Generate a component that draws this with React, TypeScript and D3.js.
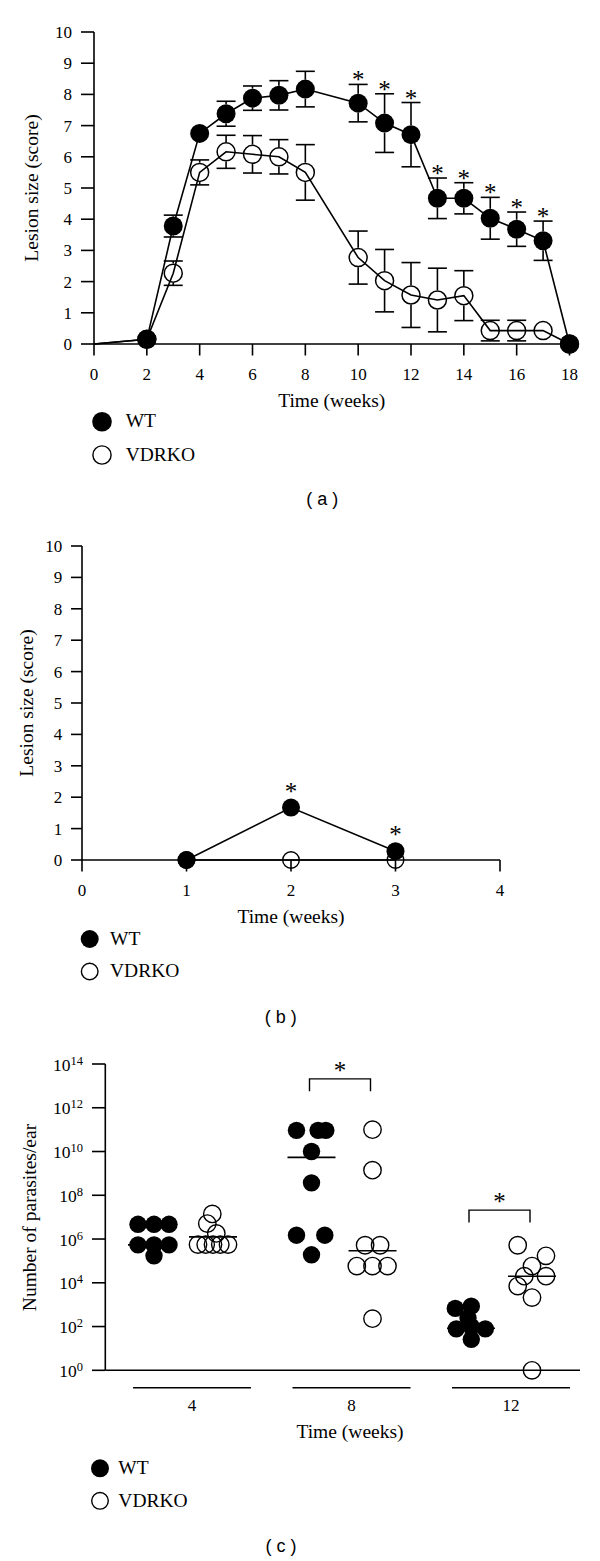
import React from "react";
import * as d3 from "d3";

const SERIF = "'Liberation Serif', 'DejaVu Serif', 'Times New Roman', Times, serif";
const SANS = "'Liberation Sans', Arial, Helvetica, sans-serif";

// ---------- Panel (a): lesion size over 18 weeks ----------
const weeksA = [0, 2, 3, 4, 5, 6, 7, 8, 10, 11, 12, 13, 14, 15, 16, 17, 18];
const wtMeanA = [0, 0.15, 3.78, 6.75, 7.38, 7.88, 7.97, 8.17, 7.72, 7.08, 6.71, 4.67, 4.67, 4.03, 3.68, 3.31, 0];
const wtSemA = [0, 0, 0.35, 0.2, 0.4, 0.39, 0.47, 0.57, 0.6, 0.94, 1.03, 0.65, 0.5, 0.67, 0.55, 0.63, 0];
const koMeanA = [0, 0.15, 2.27, 5.5, 6.16, 6.08, 6.0, 5.5, 2.77, 2.03, 1.57, 1.41, 1.55, 0.43, 0.43, 0.43, 0];
const koSemA = [0, 0, 0.39, 0.4, 0.53, 0.6, 0.55, 0.89, 0.85, 1.0, 1.04, 1.02, 0.8, 0.33, 0.33, 0.15, 0];
const sigWeeksA = [10, 11, 12, 13, 14, 15, 16, 17];
const xTicksA = [0, 2, 4, 6, 8, 10, 12, 14, 16, 18];
const yTicksScore = [0, 1, 2, 3, 4, 5, 6, 7, 8, 9, 10];

// ---------- Panel (b): lesion size over 4 weeks ----------
const weeksB = [1, 2, 3];
const wtMeanB = [0, 1.67, 0.28];
const koMeanB = [0, 0, 0];
const sigWeeksB = [2, 3];
const xTicksB = [0, 1, 2, 3, 4];

// ---------- Panel (c): parasites per ear ----------
const groupsC = [4, 8, 12];
const wtC4 = [4.7e6, 4.7e6, 4.7e6, 5.4e5, 5.4e5, 5.4e5, 1.7e5];
const wtC8 = [9.3e10, 9.3e10, 9.3e10, 1.0e10, 3.7e8, 1.5e6, 1.5e6, 1.9e5];
const wtC12 = [676, 851, 78, 98, 78, 26, 245];
const koC4 = [5.6e5, 5.6e5, 5.6e5, 5.6e5, 5.6e5, 1.8e6, 5.1e6, 1.4e7];
const koC8 = [1.0e11, 1.4e9, 5.2e5, 5.2e5, 5.8e4, 5.8e4, 5.8e4, 230];
const koC12 = [5.2e5, 1.7e5, 5.8e4, 2.0e4, 2.0e4, 7.1e3, 2.1e3, 1];
const wtLineC = [5.4e5, 5.4e9, 83];
const koLineC = [1.26e6, 2.9e5, 2.0e4];
const sigGroupsC = [8, 12];
const sigLevelC = [2.1e13, 2.1e7];
const yExpC = [0, 2, 4, 6, 8, 10, 12, 14];

// horizontal jitter (layout) for the scatter columns, in px
const wtJit4 = [-14, 2, 17, -14, 2, 17, 2];
const wtJit8 = [-15, 6.6, 14.3, 0, 0, -15, 13.3, 0];
const wtJit12 = [-15.7, 0.3, -14.7, 0.3, 14.3, 0.3, -3];
const koJit4 = [-15, -7.3, 0, 7.3, 15, 3.3, -5.7, -0.7];
const koJit8 = [0, 0, -7.4, 7.6, -15.7, 0, 15, 0];
const koJit12 = [-14.3, 14, 0, 14, -7.7, -14.3, 0, 0];

const LW = 1.6;
const STAR = 25;

function ErrBar({ x, cy, yt, yb, r }: { x: number; cy: number; yt: number; yb: number; r: number }) {
  const cap = 9.5;
  const out: any[] = [];
  if (cy - yt > r - 1) {
    out.push(<line key="t" x1={x} x2={x} y1={yt} y2={cy - r} stroke="#000" strokeWidth={LW} />);
    out.push(<line key="tc" x1={x - cap} x2={x + cap} y1={yt} y2={yt} stroke="#000" strokeWidth={LW} />);
  }
  if (yb - cy > r - 1) {
    out.push(<line key="b" x1={x} x2={x} y1={cy + r} y2={yb} stroke="#000" strokeWidth={LW} />);
    out.push(<line key="bc" x1={x - cap} x2={x + cap} y1={yb} y2={yb} stroke="#000" strokeWidth={LW} />);
  }
  return <g>{out}</g>;
}

function Legend({ x, y1, y2, tx, r }: { x: number; y1: number; y2: number; tx: number; r: number }) {
  return (
    <g style={{ fontFamily: SERIF, fontSize: 19.5 }}>
      <circle cx={x} cy={y1} r={r} fill="#000" />
      <text x={tx} y={y1 + 5.7}>WT</text>
      <circle cx={x} cy={y2} r={r - 0.7} fill="none" stroke="#000" strokeWidth={1.4} />
      <text x={tx} y={y2 + 5.7}>VDRKO</text>
    </g>
  );
}

function PanelA() {
  const x = d3.scaleLinear().domain([0, 18]).range([94, 569.5]);
  const y = d3.scaleLinear().domain([0, 10]).range([344, 32]);
  const wt = weeksA.map((w, i) => ({ w, v: wtMeanA[i], e: wtSemA[i] }));
  const ko = weeksA.map((w, i) => ({ w, v: koMeanA[i], e: koSemA[i] }));
  const lineGen = d3.line<any>().x((d) => x(d.w)).y((d) => y(d.v));
  const rW = 9.5;
  const rK = 9;
  return (
    <g style={{ fontFamily: SERIF }}>
      <line x1={x(0)} x2={x(0)} y1={y(10)} y2={y(0)} stroke="#000" strokeWidth={LW} />
      <line x1={x(0)} x2={x(18)} y1={y(0)} y2={y(0)} stroke="#000" strokeWidth={LW} />
      {yTicksScore.map((t) => (
        <g key={t}>
          <line x1={81} x2={x(0)} y1={y(t)} y2={y(t)} stroke="#000" strokeWidth={LW} />
          <text x={72} y={y(t) + 6} textAnchor="end" fontSize={17}>{t}</text>
        </g>
      ))}
      {xTicksA.map((t) => (
        <g key={t}>
          <line x1={x(t)} x2={x(t)} y1={y(0)} y2={355.5} stroke="#000" strokeWidth={LW} />
          <text x={x(t)} y={379.5} textAnchor="middle" fontSize={17}>{t}</text>
        </g>
      ))}
      <text transform={`translate(37.5,${(y(0) + y(10)) / 2}) rotate(-90)`} textAnchor="middle" fontSize={19.5}>Lesion size (score)</text>
      <text x={(x(0) + x(18)) / 2} y={406.5} textAnchor="middle" fontSize={19.5}>Time (weeks)</text>
      <path d={lineGen(ko) || ""} fill="none" stroke="#000" strokeWidth={LW} />
      <path d={lineGen(wt) || ""} fill="none" stroke="#000" strokeWidth={LW} />
      {ko.slice(1).map((d) => (
        <ErrBar key={"ke" + d.w} x={x(d.w)} cy={y(d.v)} yt={y(d.v + d.e)} yb={y(d.v - d.e)} r={rK + 0.75} />
      ))}
      {wt.slice(1).map((d) => (
        <ErrBar key={"we" + d.w} x={x(d.w)} cy={y(d.v)} yt={y(d.v + d.e)} yb={y(d.v - d.e)} r={rW} />
      ))}
      {ko.slice(1).map((d) => (
        <circle key={"k" + d.w} cx={x(d.w)} cy={y(d.v)} r={rK} fill="none" stroke="#000" strokeWidth={1.5} />
      ))}
      {wt.slice(1).map((d) => (
        <circle key={"w" + d.w} cx={x(d.w)} cy={y(d.v)} r={rW} fill="#000" />
      ))}
      {sigWeeksA.map((w) => {
        const d = wt.find((p) => p.w === w)!;
        return (
          <text key={"s" + w} x={x(w)} y={y(d.v + d.e) + 4} textAnchor="middle" fontSize={STAR}>*</text>
        );
      })}
      <Legend x={102} y1={421.7} y2={455} tx={125.7} r={9.8} />
      <text x={322.3} y={505} textAnchor="middle" style={{ fontFamily: SANS }} fontSize={18}>( a )</text>
    </g>
  );
}

function PanelB() {
  const x = d3.scaleLinear().domain([0, 4]).range([82, 500]);
  const y = d3.scaleLinear().domain([0, 10]).range([860, 546]);
  const wt = weeksB.map((w, i) => ({ w, v: wtMeanB[i] }));
  const ko = weeksB.map((w, i) => ({ w, v: koMeanB[i] }));
  const line = d3.line<any>().x((d) => x(d.w)).y((d) => y(d.v));
  return (
    <g style={{ fontFamily: SERIF }}>
      <line x1={x(0)} x2={x(0)} y1={y(10)} y2={y(0)} stroke="#000" strokeWidth={LW} />
      <line x1={x(0)} x2={x(4)} y1={y(0)} y2={y(0)} stroke="#000" strokeWidth={LW} />
      {yTicksScore.map((t) => (
        <g key={t}>
          <line x1={71} x2={x(0)} y1={y(t)} y2={y(t)} stroke="#000" strokeWidth={LW} />
          <text x={62.3} y={y(t) + 6} textAnchor="end" fontSize={17}>{t}</text>
        </g>
      ))}
      {xTicksB.map((t) => (
        <g key={t}>
          <line x1={x(t)} x2={x(t)} y1={y(0)} y2={871.5} stroke="#000" strokeWidth={LW} />
          <text x={x(t)} y={896} textAnchor="middle" fontSize={17}>{t}</text>
        </g>
      ))}
      <text transform={`translate(33,${(y(0) + y(10)) / 2}) rotate(-90)`} textAnchor="middle" fontSize={19.5}>Lesion size (score)</text>
      <text x={x(2)} y={923.3} textAnchor="middle" fontSize={19.5}>Time (weeks)</text>
      <path d={line(ko) || ""} fill="none" stroke="#000" strokeWidth={LW} />
      <path d={line(wt) || ""} fill="none" stroke="#000" strokeWidth={LW} />
      {ko.map((d) => (
        <circle key={"k" + d.w} cx={x(d.w)} cy={y(d.v)} r={8.3} fill="none" stroke="#000" strokeWidth={1.4} />
      ))}
      {wt.map((d) => (
        <circle key={"w" + d.w} cx={x(d.w)} cy={y(d.v)} r={9} fill="#000" />
      ))}
      {sigWeeksB.map((w) => {
        const d = wt.find((p) => p.w === w)!;
        return (
          <text key={"s" + w} x={x(w)} y={y(d.v) - 8} textAnchor="middle" fontSize={STAR}>*</text>
        );
      })}
      <Legend x={89.7} y1={939} y2={971.5} tx={110} r={9} />
      <text x={280.7} y={1023} textAnchor="middle" style={{ fontFamily: SANS }} fontSize={18}>( b )</text>
    </g>
  );
}

function PanelC() {
  const y = d3.scaleLog().domain([1, 1e14]).range([1370.3, 1064]);
  const xg = d3.scalePoint<number>().domain(groupsC).range([192, 511]);
  const wtOff = -40;
  const koOff = 21;
  const wtSets = [wtC4, wtC8, wtC12];
  const koSets = [koC4, koC8, koC12];
  const wtJ = [wtJit4, wtJit8, wtJit12];
  const koJ = [koJit4, koJit8, koJit12];
  const r = 8.7;
  return (
    <g style={{ fontFamily: SERIF }}>
      <line x1={105.3} x2={105.3} y1={y(1e14)} y2={y(1)} stroke="#000" strokeWidth={LW} />
      <line x1={105.3} x2={580} y1={y(1)} y2={y(1)} stroke="#000" strokeWidth={LW} />
      {yExpC.map((e) => (
        <g key={e}>
          <line x1={92} x2={105.3} y1={y(Math.pow(10, e))} y2={y(Math.pow(10, e))} stroke="#000" strokeWidth={LW} />
          <text x={83} y={y(Math.pow(10, e)) + 6.5} textAnchor="end" fontSize={17.5}>
            10<tspan dy={-6} fontSize={12.5}>{e}</tspan>
          </text>
        </g>
      ))}
      {groupsC.map((g) => (
        <g key={g}>
          <line x1={xg(g)! - 59} x2={xg(g)! + 59} y1={1387.7} y2={1387.7} stroke="#000" strokeWidth={LW} />
          <text x={xg(g)!} y={1411} textAnchor="middle" fontSize={17}>{g}</text>
        </g>
      ))}
      <text transform={`translate(36,1217.5) rotate(-90)`} textAnchor="middle" fontSize={19.5}>Number of parasites/ear</text>
      <text x={350} y={1437.5} textAnchor="middle" fontSize={19.5}>Time (weeks)</text>
      {groupsC.map((g, gi) => {
        const cw = xg(g)! + wtOff;
        const ck = xg(g)! + koOff;
        return (
          <g key={"grp" + g}>
            <line x1={cw - 24} x2={cw + 24} y1={y(wtLineC[gi])} y2={y(wtLineC[gi])} stroke="#000" strokeWidth={LW} />
            {wtSets[gi].map((v, i) => (
              <circle key={"w" + i} cx={cw + wtJ[gi][i]} cy={y(v)} r={r} fill="#000" />
            ))}
            {koSets[gi].map((v, i) => (
              <circle key={"k" + i} cx={ck + koJ[gi][i]} cy={y(v)} r={r} fill="none" stroke="#000" strokeWidth={1.4} />
            ))}
            <line x1={ck - 24} x2={ck + 24} y1={y(koLineC[gi])} y2={y(koLineC[gi])} stroke="#000" strokeWidth={LW} />
          </g>
        );
      })}
      {sigGroupsC.map((g, i) => {
        const x1 = xg(g)! + wtOff - 2;
        const x2 = xg(g)! + koOff - 2;
        const by = y(sigLevelC[i]);
        return (
          <g key={"sig" + g}>
            <path d={`M${x1},${by + 12.5}V${by}H${x2}V${by + 12.5}`} fill="none" stroke="#000" strokeWidth={1.4} />
            <text x={(x1 + x2) / 2} y={by} textAnchor="middle" fontSize={STAR}>*</text>
          </g>
        );
      })}
      <Legend x={100} y1={1468.3} y2={1500.8} tx={118.3} r={9} />
      <text x={281} y={1552} textAnchor="middle" style={{ fontFamily: SANS }} fontSize={18}>( c )</text>
    </g>
  );
}

export default function App() {
  return (
    <svg
      width={600}
      height={1561}
      viewBox="0 0 600 1561"
      style={{ position: "absolute", left: 0, top: 0, display: "block", background: "#fff" }}
    >
      <rect x={0} y={0} width={600} height={1561} fill="#fff" />
      <PanelA />
      <PanelB />
      <PanelC />
    </svg>
  );
}
